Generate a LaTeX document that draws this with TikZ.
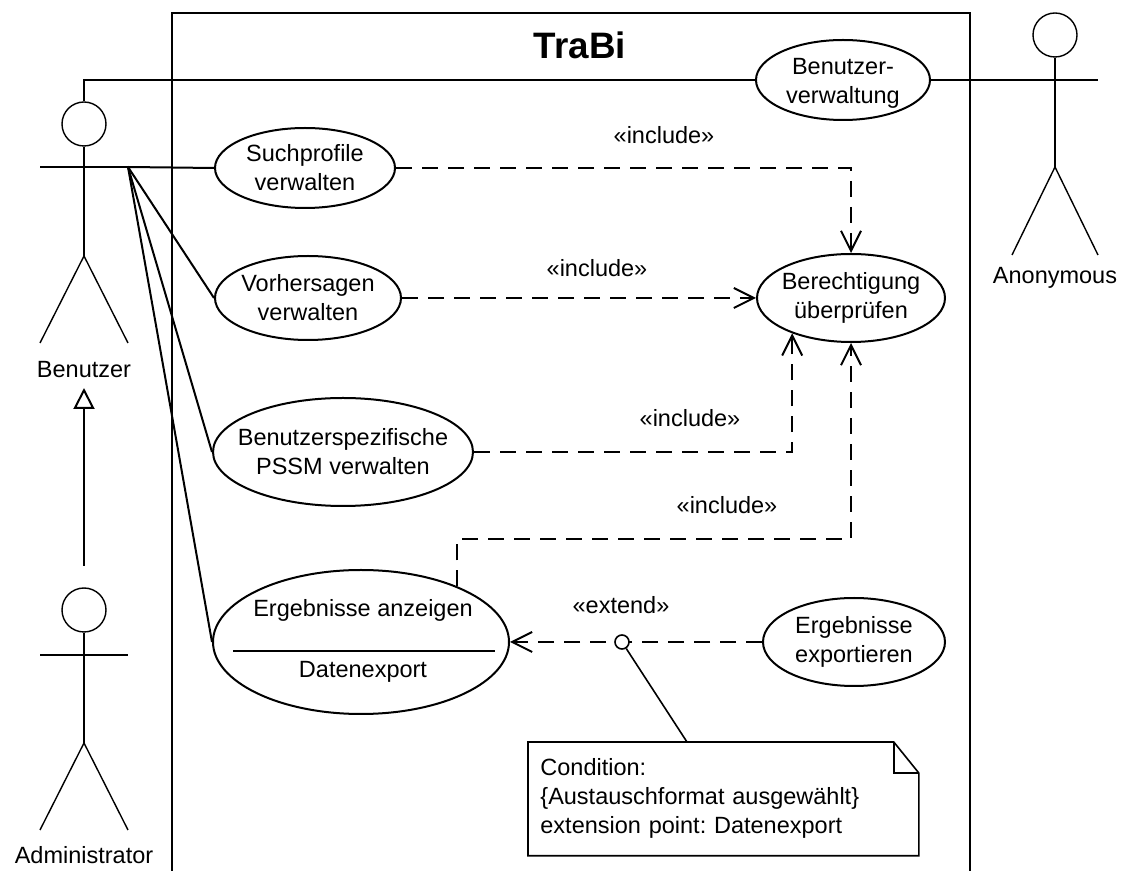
\documentclass[tikz,border=0pt]{standalone}
\usepackage{fontspec}
\setmainfont{Liberation Sans}
\usetikzlibrary{shapes.geometric,arrows.meta,calc}

\begin{document}
\frenchspacing
\begin{tikzpicture}[x=0.5pt,y=-0.5pt,
  font=\fontsize{11.75}{14.5}\selectfont,
  usecase/.style={draw, ellipse, line width=1pt, inner sep=0pt},
  uctext/.style={align=center, inner sep=0pt},
  actorline/.style={line width=0.7pt},
  head/.style={draw, circle, line width=0.7pt, minimum size=22pt, inner sep=0pt},
  assoc/.style={line width=1pt},
  incl/.style={line width=1pt, dash pattern=on 8pt off 5pt,
    -{Straight Barb[length=10pt,width=10pt]}},
  stereo/.style={inner sep=0pt},
]
\useasboundingbox (0,0) rectangle (1148,871);

% system boundary (open at the bottom)
\draw[line width=1.2pt] (172,880) -- (172,13) -- (970,13) -- (970,880);
\node[font=\bfseries\fontsize{18.4}{22}\selectfont] (title) at (580,45) {TraBi};

% actor: Benutzer
\node[head] (bhead) at (84,124) {};
\draw[actorline] (40,167) -- (128,167) coordinate (bhand);
\draw[actorline] (bhead.south) -- (84,256) coordinate (bhip);
\draw[actorline] (40,343) -- (bhip) -- (128,343);
\node (blabel) at (84,370) {Benutzer};

% actor: Administrator
\node[head] (ahead) at (84,610) {};
\draw[actorline] (40,655) -- (128,655);
\draw[actorline] (ahead.south) -- (84,743) coordinate (ahip);
\draw[actorline] (40,830) -- (ahip) -- (128,830);
\node (alabel) at (84,855) {Administrator};

% actor: Anonymous
\node[head] (nhead) at (1055,35) {};
\draw[actorline] (1010,80) coordinate (nhand) -- (1098,80);
\draw[actorline] (nhead.south) -- (1055,167) coordinate (nhip);
\draw[actorline] (1012,255) -- (nhip) -- (1098,255);
\node (nlabel) at (1055,278) {Anonymous};

% generalization Administrator -> Benutzer
\coordinate (gstart) at (84,566);
\coordinate (gend) at (84,388);
\draw[assoc, -{Triangle[open,length=10.5pt,width=10.5pt]}] (gstart) -- (gend);

% use cases (outline and text as separate nodes)
\node[usecase, minimum width=87pt, minimum height=40pt] (uv) at (843,80) {};
\node[uctext] (uvtext) at (843,83) {Benutzer-\\verwaltung};
\node[usecase, minimum width=90pt, minimum height=40pt] (such) at (305,168) {};
\node[uctext] (suchtext) at (such) {Suchprofile\\verwalten};
\node[usecase, minimum width=93pt, minimum height=42pt] (vor) at (308,298) {};
\node[uctext] (vortext) at (vor) {Vorhersagen\\verwalten};
\node[usecase, minimum width=130pt, minimum height=54pt] (pssm) at (343,452) {};
\node[uctext] (pssmtext) at (pssm) {Benutzerspezifische\\PSSM verwalten};
\node[usecase, minimum width=148pt, minimum height=72pt] (erg) at (361,642) {};
\node (ergtext) at (363,610) {Ergebnisse anzeigen};
\draw[line width=0.7pt] (233,651) coordinate (sepl) -- (495,651) coordinate (sepr);
\node (ergext) at (363,672) {Datenexport};
\node[usecase, minimum width=94pt, minimum height=44pt] (ber) at (851,298) {};
\node[uctext] (bertext) at (ber) {Berechtigung\\überprüfen};
\node[usecase, minimum width=91pt, minimum height=44pt] (exp) at (854,642) {};
\node[uctext] (exptext) at (exp) {Ergebnisse\\exportieren};

% associations
\draw[assoc] (bhead.north) |- (uv.west);
\draw[assoc] (uv.east) -- (nhand);
\draw[assoc] (bhand) -- (such.west);
\draw[assoc] (bhand) -- (vor.west);
\draw[assoc] (bhand) -- (pssm.west);
\draw[assoc] (bhand) -- (erg.west);

% include relations
\draw[incl] (such.east) -| (ber.north);
\draw[incl] (vor.east) -- (ber.west);
\draw[incl] (pssm.east) -| (ber.-149);
\coordinate (bend4) at (851,539);
\draw[incl] (erg.30) |- (bend4) -- (ber.south);
\node[stereo] (incl1) at (664,135) {«include»};
\node[stereo] (incl2) at (597,268) {«include»};
\node[stereo] (incl3) at (690,418) {«include»};
\node[stereo] (incl4) at (727,505) {«include»};

% extend relation with condition note
\draw[incl] (exp.west) -- (erg.east);
\node[stereo] (ext) at (621,605) {«extend»};
\node[draw, circle, fill=white, minimum size=7pt, inner sep=0pt, line width=0.8pt] (ep) at (622,642) {};
\node[anchor=north west, inner xsep=6pt, inner ysep=0pt, text width=183pt,
      minimum height=56.5pt, align=left] (note) at (528,742)
  {Condition:\\\{Austauschformat ausgewählt\}\\extension point: Datenexport};
\draw[line width=0.8pt] (note.north west) -- ($(note.north east)+(-12.5pt,0)$) coordinate (foldA)
  -- ($(note.north east)+(0,-15.5pt)$) coordinate (foldB)
  -- (note.south east) -- (note.south west) -- cycle;
\draw[line width=0.8pt] (foldA) |- (foldB);
\draw[line width=0.8pt] (ep) -- ($(note.north west)+(79.5pt,0)$);
\end{tikzpicture}
\end{document}
